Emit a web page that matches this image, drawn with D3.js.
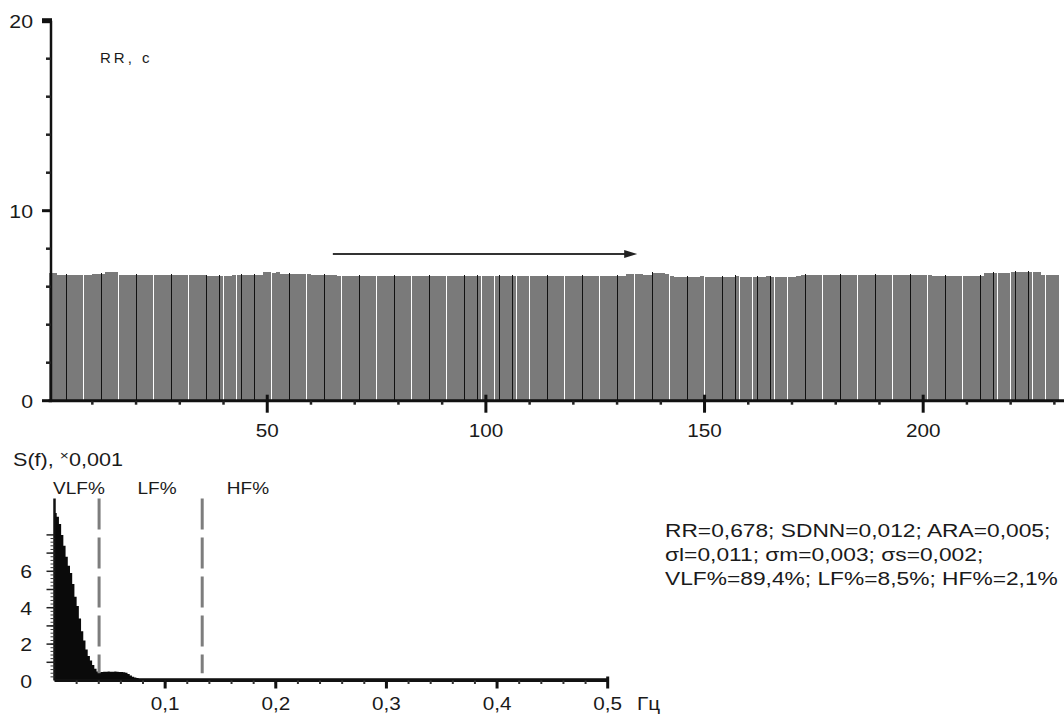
<!DOCTYPE html>
<html>
<head>
<meta charset="utf-8">
<script src="https://cdn.jsdelivr.net/npm/d3@7/dist/d3.min.js"></script>
<style>
  body { margin: 0; background: #fff; }
  svg { display: block; }
  text { font-family: "Liberation Sans", Arial, sans-serif; fill: #1a1a1a; }
</style>
</head>
<body>
<svg id="chart" width="1064" height="714"></svg>
<script>
// RR intervals (x0.1 s), one bar per beat
var rrValues = [
  6.74, 6.72,
  6.63, 6.62, 6.63, 6.63, 6.62, 6.63, 6.64, 6.63,
  6.68, 6.69, 6.68,
  6.77, 6.78, 6.76,
  6.63, 6.62, 6.63, 6.63, 6.64, 6.63, 6.62, 6.63, 6.63, 6.64, 6.63, 6.62, 6.63,
  6.61, 6.60, 6.61, 6.61, 6.62, 6.61, 6.60,
  6.56, 6.55, 6.56, 6.56, 6.57, 6.56,
  6.62, 6.62, 6.63, 6.62, 6.61, 6.62, 6.62,
  6.75, 6.77, 6.74, 6.76,
  6.67, 6.66, 6.67, 6.68, 6.67, 6.66, 6.67,
  6.63, 6.62, 6.63, 6.64, 6.63, 6.62,
  6.55, 6.55, 6.54, 6.55, 6.55, 6.56, 6.55, 6.55, 6.54, 6.55, 6.55,
  6.55, 6.56, 6.55, 6.55, 6.54, 6.55, 6.55, 6.55, 6.56, 6.55, 6.55,
  6.54, 6.55, 6.55, 6.55, 6.55, 6.56, 6.55, 6.54, 6.55, 6.55, 6.55,
  6.55, 6.55, 6.56, 6.55, 6.55, 6.54, 6.55, 6.55, 6.55, 6.56, 6.55,
  6.55, 6.54, 6.55, 6.55, 6.55, 6.55, 6.56, 6.55, 6.55, 6.54, 6.55,
  6.55, 6.55, 6.55, 6.56, 6.55, 6.55, 6.54, 6.55, 6.56, 6.57, 6.58,
  6.68, 6.69, 6.67, 6.68,
  6.60, 6.61,
  6.70, 6.71, 6.70, 6.69,
  6.54, 6.53, 6.53, 6.53, 6.52, 6.53, 6.53, 6.54, 6.53, 6.53,
  6.53, 6.52, 6.53, 6.53, 6.53, 6.54, 6.53, 6.53, 6.52, 6.53,
  6.53, 6.53, 6.54, 6.53, 6.53, 6.52, 6.53, 6.53, 6.53, 6.54,
  6.63, 6.62, 6.63, 6.64, 6.63, 6.63, 6.62, 6.63, 6.63, 6.64,
  6.60, 6.61, 6.60, 6.60, 6.59, 6.60,
  6.63, 6.63, 6.62, 6.63, 6.64, 6.63, 6.63, 6.62,
  6.60, 6.60, 6.61, 6.60, 6.59, 6.60,
  6.56, 6.56, 6.55, 6.56, 6.57, 6.56, 6.56, 6.55, 6.56, 6.56, 6.57, 6.56,
  6.72, 6.71, 6.72, 6.73, 6.72, 6.72,
  6.76, 6.77, 6.76, 6.75, 6.76, 6.77, 6.76,
  6.64, 6.63, 6.64, 6.64
];
var beatMajorTicks = [50, 100, 150, 200];
var rrMajorTicks = [0, 10, 20];

// spectrum S(f), x0.001
var specFreq = [0, 0.002, 0.004, 0.006, 0.008, 0.010, 0.012, 0.014, 0.016, 0.018,
  0.020, 0.022, 0.024, 0.026, 0.028, 0.030, 0.032, 0.034, 0.036, 0.038,
  0.040, 0.042, 0.044, 0.046, 0.048, 0.050, 0.052, 0.054, 0.056, 0.058,
  0.060, 0.062, 0.064, 0.066, 0.068, 0.070, 0.072, 0.074, 0.076, 0.5];
var specPower = [9.2, 9.0, 8.6, 8.0, 7.4, 6.8, 6.3, 5.9, 5.3, 4.6,
  4.1, 3.4, 2.7, 2.2, 1.7, 1.35, 1.1, 0.85, 0.65, 0.5,
  0.45, 0.47, 0.48, 0.48, 0.49, 0.48, 0.48, 0.49, 0.48, 0.47,
  0.47, 0.46, 0.42, 0.36, 0.28, 0.2, 0.16, 0.14, 0.12, 0.12];
var freqTicks = [0.1, 0.2, 0.3, 0.4, 0.5];
var powerTicks = [0, 2, 4, 6];
var bandEdges = [0.0403, 0.1335];
var bandNames = ["VLF%", "LF%", "HF%"];

var stats = ["RR=0,678; SDNN=0,012; ARA=0,005;",
  "\u03c3l=0,011; \u03c3m=0,003; \u03c3s=0,002;",
  "VLF%=89,4%; LF%=8,5%; HF%=2,1%"];

var arrowFrom = [65, 7.72], arrowTo = [134.6, 7.72];

var svg = d3.select("#chart");

function label(g, txt, x, y, anchor, size, sx)
{
	return g.append("text")
		.attr("transform", "translate(" + x + "," + y + ") scale(" + sx + ",1)")
		.attr("text-anchor", anchor)
		.style("font-size", size + "px")
		.text(txt);
}

// ---------- top: RR rhythmogram ----------
var x = d3.scaleLinear().domain([0, 232.5]).range([48.6, 1065.3]);
var y = d3.scaleLinear().domain([0, 20]).range([400.7, 20.7]);

var rr = svg.append("g");

rr.selectAll("rect.bar")
	.data(rrValues)
	.enter().append("rect")
	.attr("class", "bar")
	.attr("x", function(d, i) { return x(i); })
	.attr("width", function(d, i) { return x(i + 1) - x(i) - 0.15; })
	.attr("y", function(d) { return y(d); })
	.attr("height", function(d) { return y(0) - y(d); })
	.attr("fill", "#7a7a7a")
	.attr("shape-rendering", "crispEdges");

// dark bar edges (only some hit a pixel, like the scanned original)
rr.selectAll("rect.edge")
	.data(rrValues)
	.enter().append("rect")
	.attr("class", "edge")
	.attr("x", function(d, i) { return x(i) + 0.35; })
	.attr("width", 0.15)
	.attr("y", function(d) { return y(d) - 1; })
	.attr("height", function(d) { return y(0) - y(d) + 1; })
	.attr("fill", "#111")
	.attr("shape-rendering", "crispEdges");

// x axis
rr.append("line")
	.attr("x1", x(0)).attr("x2", 1064)
	.attr("y1", y(0)).attr("y2", y(0))
	.attr("stroke", "#111").attr("stroke-width", 3);

rr.selectAll("line.xminor")
	.data(d3.range(10, 232, 10).filter(function(v) { return v % 50 != 0; }))
	.enter().append("line")
	.attr("x1", function(d) { return x(d); }).attr("x2", function(d) { return x(d); })
	.attr("y1", y(0)).attr("y2", y(0) + 4)
	.attr("stroke", "#222").attr("stroke-width", 2.5);

rr.selectAll("line.xmajor")
	.data(beatMajorTicks)
	.enter().append("line")
	.attr("x1", function(d) { return x(d); }).attr("x2", function(d) { return x(d); })
	.attr("y1", y(0) - 6).attr("y2", y(0) + 12)
	.attr("stroke", "#111").attr("stroke-width", 3);

beatMajorTicks.forEach(function(v) { label(rr, v, x(v), 437, "middle", 18, 1.15); });

// y axis
rr.append("line")
	.attr("x1", 51).attr("x2", 51)
	.attr("y1", y(20)).attr("y2", y(0))
	.attr("stroke", "#111").attr("stroke-width", 2.5);

rr.selectAll("line.yminor")
	.data(d3.range(2, 20, 2).filter(function(v) { return v != 10; }))
	.enter().append("line")
	.attr("x1", 46).attr("x2", 51)
	.attr("y1", function(d) { return y(d); }).attr("y2", function(d) { return y(d); })
	.attr("stroke", "#222").attr("stroke-width", 2.5);

rr.selectAll("line.ymajor")
	.data(rrMajorTicks)
	.enter().append("line")
	.attr("x1", 42).attr("x2", 52)
	.attr("y1", function(d) { return y(d); }).attr("y2", function(d) { return y(d); })
	.attr("stroke", "#111").attr("stroke-width", function(d) { return d == 20 ? 5 : 3; });

rrMajorTicks.forEach(function(v) { label(rr, v, 33, y(v) + 7, "end", 19, 1.12); });

rr.append("text")
	.attr("x", 100).attr("y", 63)
	.style("font-size", "15px")
	.style("letter-spacing", "3px")
	.text("RR, c");

// arrow
rr.append("line")
	.attr("x1", x(arrowFrom[0])).attr("x2", x(arrowTo[0]) - 10)
	.attr("y1", y(arrowFrom[1])).attr("y2", y(arrowTo[1]))
	.attr("stroke", "#333").attr("stroke-width", 2);
rr.append("path")
	.attr("d", "M" + x(arrowTo[0]) + "," + y(arrowTo[1]) +
		"L" + (x(arrowTo[0]) - 13) + "," + (y(arrowTo[1]) - 4) +
		"L" + (x(arrowTo[0]) - 13) + "," + (y(arrowTo[1]) + 4) + "Z")
	.attr("fill", "#222");

// ---------- bottom: spectrum ----------
var xs = d3.scaleLinear().domain([0, 0.5]).range([54.5, 607.7]);
var ys = d3.scaleLinear().domain([0, 10]).range([680.5, 498.5]);

var bot = svg.append("g");

var area = d3.area()
	.x(function(d, i) { return xs(specFreq[i]); })
	.y0(ys(0))
	.y1(function(d) { return ys(d); })
	.curve(d3.curveStepAfter);

bot.append("path")
	.datum(specPower)
	.attr("d", area)
	.attr("fill", "#0a0a0a");

// band borders
bot.selectAll("line.band")
	.data(bandEdges)
	.enter().append("line")
	.attr("x1", function(d) { return xs(d); }).attr("x2", function(d) { return xs(d); })
	.attr("y1", ys(10)).attr("y2", ys(0.4))
	.attr("stroke", "#7d7d7d").attr("stroke-width", 3)
	.attr("stroke-dasharray", "31,8");

var bandLabelX = [79, 157, 248];
bandNames.forEach(function(n, i) { label(bot, n, bandLabelX[i], 494, "middle", 17, 1.12); });

// y axis
bot.append("line")
	.attr("x1", xs(0)).attr("x2", xs(0))
	.attr("y1", ys(10)).attr("y2", ys(0))
	.attr("stroke", "#111").attr("stroke-width", 2.5);

bot.selectAll("line.yfine")
	.data(d3.range(0.2, 8, 0.2))
	.enter().append("line")
	.attr("x1", xs(0) - 4).attr("x2", xs(0))
	.attr("y1", function(d) { return ys(d); }).attr("y2", function(d) { return ys(d); })
	.attr("stroke", "#333").attr("stroke-width", 1);

bot.selectAll("line.yunit")
	.data(d3.range(1, 9))
	.enter().append("line")
	.attr("x1", xs(0) - 8).attr("x2", xs(0))
	.attr("y1", function(d) { return ys(d); }).attr("y2", function(d) { return ys(d); })
	.attr("stroke", "#222").attr("stroke-width", 1.5);

powerTicks.forEach(function(v) { label(bot, v, 32, ys(v) + 7, "end", 19, 1.12); });

// x axis
bot.append("line")
	.attr("x1", xs(0)).attr("x2", xs(0.5) + 1)
	.attr("y1", ys(0)).attr("y2", ys(0))
	.attr("stroke", "#111").attr("stroke-width", 3);

bot.selectAll("line.xminor")
	.data(d3.range(0.02, 0.5, 0.02))
	.enter().append("line")
	.attr("x1", function(d) { return xs(d); }).attr("x2", function(d) { return xs(d); })
	.attr("y1", ys(0)).attr("y2", ys(0) + 3.5)
	.attr("stroke", "#333").attr("stroke-width", 2);

bot.selectAll("line.xmajor")
	.data(freqTicks)
	.enter().append("line")
	.attr("x1", function(d) { return xs(d); }).attr("x2", function(d) { return xs(d); })
	.attr("y1", function(d) { return d == 0.5 ? ys(0) - 4 : ys(0); }).attr("y2", ys(0) + 8)
	.attr("stroke", "#111").attr("stroke-width", 3);

freqTicks.forEach(function(v) { label(bot, String(v).replace(".", ","), xs(v), 710, "middle", 18, 1.15); });
label(bot, "\u0413\u0446", 637, 710, "start", 18, 1.15);

var sf = label(bot, "S(f), ", 13, 466, "start", 18, 1.2);
sf.append("tspan").style("font-size", "13px").attr("dy", -6).text("\u00d7");
sf.append("tspan").attr("dy", 6).text("0,001");

// ---------- stats ----------
stats.forEach(function(s, i) { label(svg, s, 665, 537 + i * 24, "start", 18, 1.265); });
</script>
</body>
</html>
